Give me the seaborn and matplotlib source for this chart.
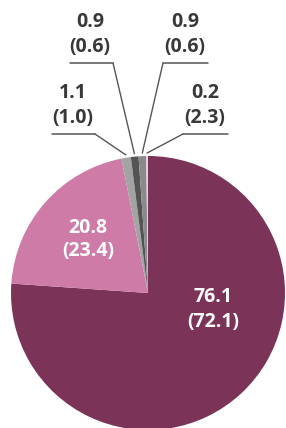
import numpy as np
import matplotlib.pyplot as plt
import seaborn as sns

# shares in %, current value and (previous value)
labels_now = ['76.1', '20.8', '1.1', '0.9', '0.9', '0.2']
labels_prev = ['(72.1)', '(23.4)', '(1.0)', '(0.6)', '(0.6)', '(2.3)']
values = [76.1, 20.8, 1.1, 0.9, 0.9, 0.2]
colors = ['#7b3358', '#cf7ba7', '#a3a3a3', '#545454', '#8a8a8a', '#ead0de']

sns.set_theme(style='white')
plt.rcParams['font.family'] = ['Open Sans', 'DejaVu Sans']

H = 428
fig = plt.figure(figsize=(2.86, 4.28), dpi=100)
ax = fig.add_axes([0, 0, 1, 1])

cx, cy, r = 148, H - 293, 137
wedges, _ = ax.pie(values, colors=colors, startangle=90, counterclock=False,
                   center=(cx, cy), radius=r, wedgeprops=dict(linewidth=0))

ax.set_xlim(0, 286)
ax.set_ylim(0, H)
ax.set_aspect('equal')
ax.axis('off')

txt = dict(fontsize=14, fontweight='bold', ha='center', va='center')

# labels inside the two large slices
ax.text(213, H - 297, labels_now[0], color='white', **txt)
ax.text(213, H - 322, labels_prev[0], color='white', **txt)
ax.text(88, H - 228, labels_now[1], color='white', **txt)
ax.text(88, H - 251, labels_prev[1], color='white', **txt)

# small slices: label center x, top line y, underline span, leader start
outside = {
    2: (73, 93, (52, 95), 95),
    3: (90, 22, (70, 113), 113),
    4: (185, 22, (163, 208), 163),
    5: (205, 93, (183, 228), 183),
}
for i, (tx, ty, (u0, u1), lx) in outside.items():
    w = wedges[i]
    ang = np.deg2rad((w.theta1 + w.theta2) / 2)
    px = cx + (r + 3) * np.cos(ang)
    py = cy + (r + 3) * np.sin(ang)
    ax.text(tx, H - ty, labels_now[i], color='#383838', **txt)
    ax.text(tx, H - ty - 25, labels_prev[i], color='#383838', **txt)
    uy = H - ty - 41
    ax.plot([u0, u1], [uy, uy], color='#555555', lw=1.1)
    ax.plot([lx, px], [uy, py], color='#555555', lw=1.0)

plt.savefig('out.png', dpi=100)
